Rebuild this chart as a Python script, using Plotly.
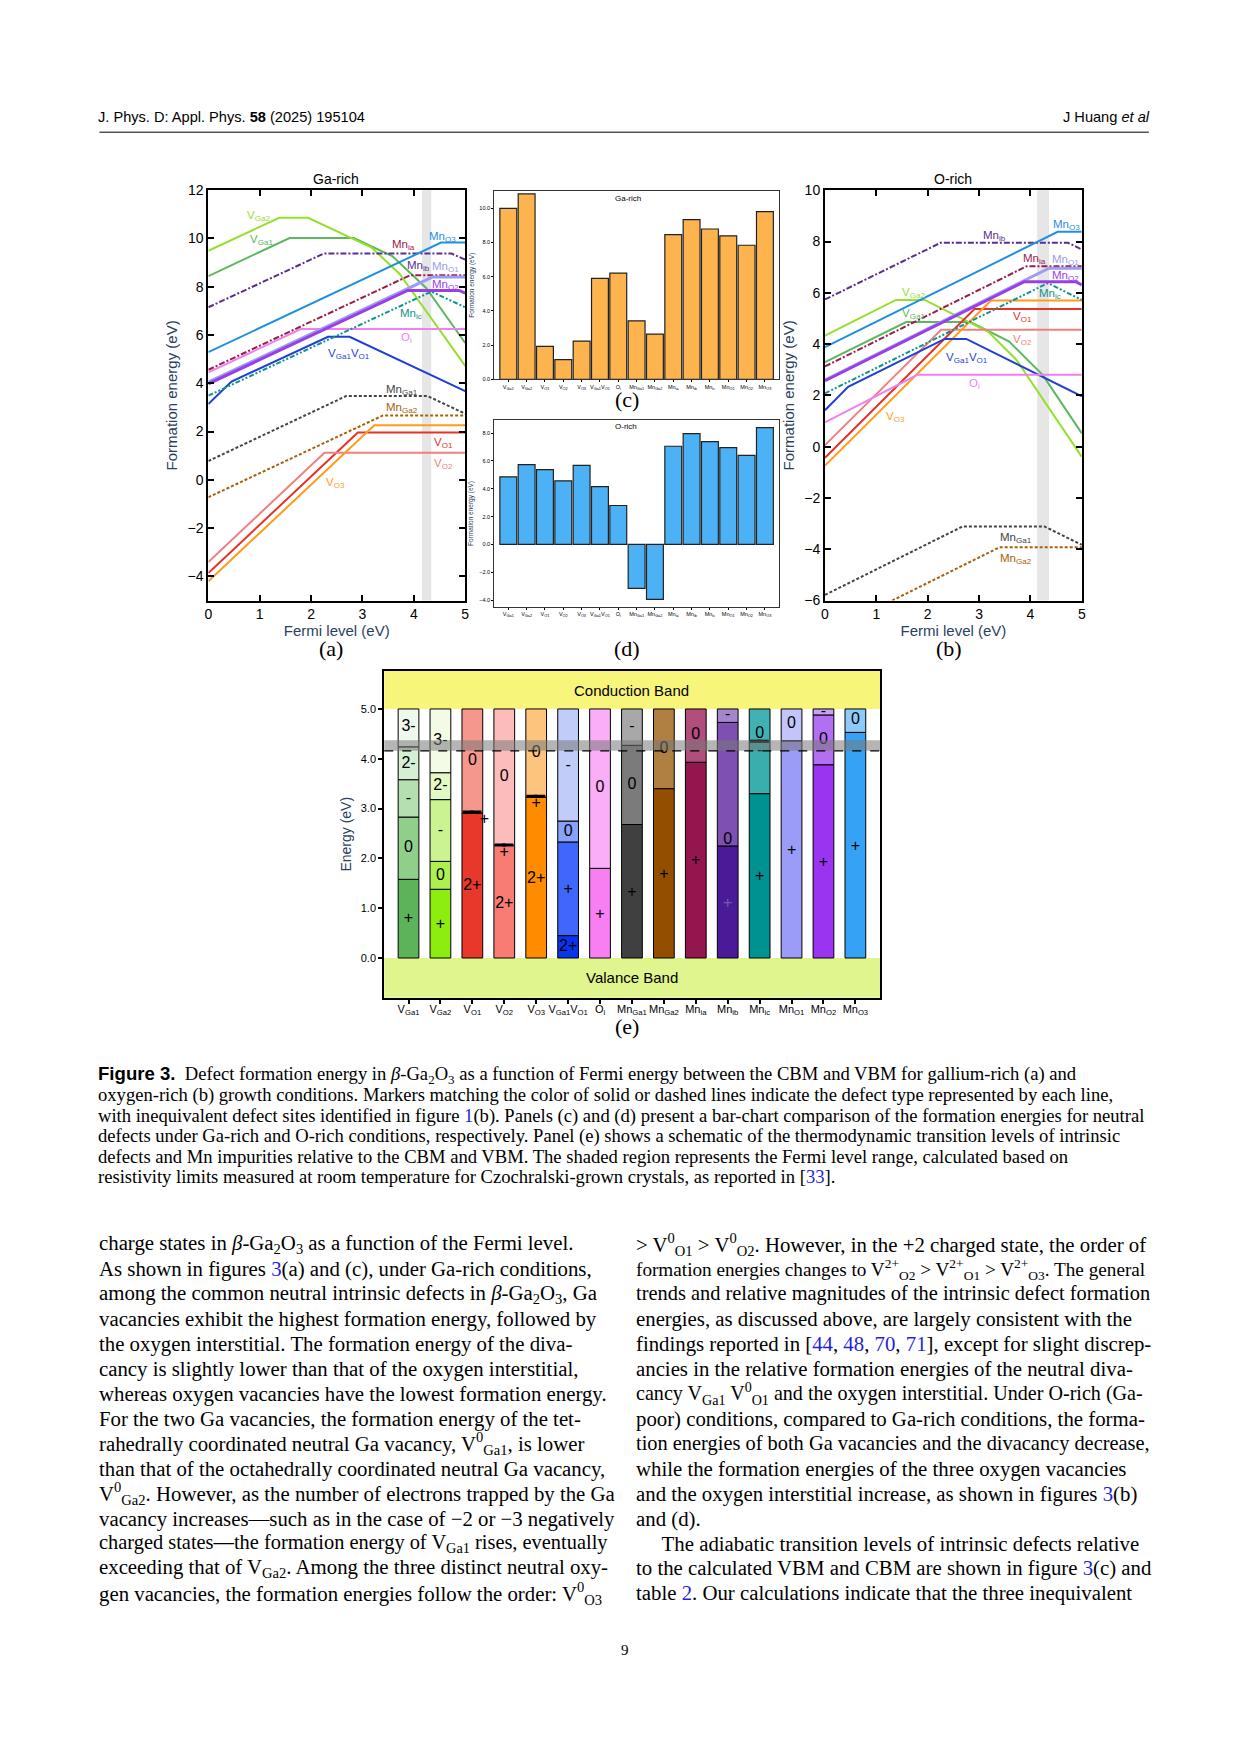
import plotly.graph_objects as go

W, H = 1241, 1754          # page size
PAD = 8                    # default body margin of the html page
FW, FH = W - 2 * PAD, H - 2 * PAD   # figure size so that page == window

# ============================ DATA ============================
defect_keys = ["VGa1", "VGa2", "VO1", "VO2", "VO3", "VGa1VO1", "Oi", "MnGa1", "MnGa2",
               "Mnia", "Mnib", "Mnic", "MnO1", "MnO2", "MnO3"]
category_labels = ["V<sub>Ga1</sub>", "V<sub>Ga2</sub>", "V<sub>O1</sub>", "V<sub>O2</sub>", "V<sub>O3</sub>",
                   "V<sub>Ga1</sub>V<sub>O1</sub>", "O<sub>i</sub>", "Mn<sub>Ga1</sub>", "Mn<sub>Ga2</sub>",
                   "Mn<sub>ia</sub>", "Mn<sub>ib</sub>", "Mn<sub>ic</sub>", "Mn<sub>O1</sub>", "Mn<sub>O2</sub>",
                   "Mn<sub>O3</sub>"]

# Fermi-level break points (eV) of each formation-energy line
kinks_VGa1 = [0, 1.58, 2.83, 3.58, 4.24, 5]
kinks_VGa2 = [0, 1.38, 1.94, 3.18, 3.72, 5]
kinks_VO1 = [0, 2.91, 5]
kinks_VO2 = [0, 2.26, 5]
kinks_VO3 = [0, 3.23, 5]
kinks_VGa1VO1 = [0, 0.45, 2.33, 2.75, 5]
kinks_Oi = [0, 1.80, 5]
kinks_MnGa1 = [0, 2.68, 4.27, 5]
kinks_MnGa2 = [0, 3.40, 5]
kinks_Mnia = [0, 3.93, 5]
kinks_Mnib = [0, 2.25, 4.73, 5]
kinks_Mnic = [0, 4.34, 5]
kinks_MnO1 = [0, 4.36, 5]
kinks_MnO2 = [0, 3.88, 4.88, 5]
kinks_MnO3 = [0, 4.53, 5]

# Ga-rich formation energies (eV) at the break points -- panel (a)
garich_VGa1 = [8.44, 10.02, 10.02, 9.27, 7.95, 5.67]
garich_VGa2 = [9.49, 10.86, 10.86, 9.62, 8.54, 4.72]
garich_VO1 = [-3.86, 1.96, 1.96]
garich_VO2 = [-3.40, 1.12, 1.12]
garich_VO3 = [-4.20, 2.26, 2.26]
garich_VGa1VO1 = [3.14, 4.07, 5.93, 5.93, 3.68]
garich_Oi = [4.45, 6.25, 6.25]
garich_MnGa1 = [0.78, 3.47, 3.47, 2.74]
garich_MnGa2 = [-0.72, 2.67, 2.67]
garich_Mnia = [4.56, 8.48, 8.48]
garich_Mnib = [7.15, 9.38, 9.38, 9.12]
garich_Mnic = [3.49, 7.80, 7.15]
garich_MnO1 = [4.05, 8.40, 8.40]
garich_MnO2 = [3.98, 7.85, 7.85, 7.74]
garich_MnO3 = [5.29, 9.83, 9.83]

# O-rich formation energies (eV) at the break points -- panel (b)
orich_VGa1 = [3.30, 4.86, 4.86, 4.11, 2.79, 0.52]
orich_VGa2 = [4.33, 5.72, 5.72, 4.48, 3.40, -0.40]
orich_VO1 = [-0.43, 5.37, 5.37]
orich_VO2 = [0.06, 4.56, 4.56]
orich_VO3 = [-0.74, 5.70, 5.70]
orich_VGa1VO1 = [1.42, 2.33, 4.20, 4.20, 1.96]
orich_Oi = [0.95, 2.80, 2.80]
orich_MnGa1 = [-5.78, -3.11, -3.11, -3.83]
orich_MnGa2 = [-7.30, -3.92, -3.92]
orich_Mnia = [3.13, 7.04, 7.04]
orich_Mnib = [5.74, 7.95, 7.95, 7.69]
orich_Mnic = [2.08, 6.38, 5.72]
orich_MnO1 = [2.60, 6.96, 6.96]
orich_MnO2 = [2.57, 6.43, 6.43, 6.31]
orich_MnO3 = [3.88, 8.38, 8.38]

# Neutral formation energies (eV) -- bar charts (c) Ga-rich and (d) O-rich
neutral_garich = [10.0, 10.84, 1.93, 1.15, 2.24, 5.91, 6.21, 3.42, 2.65, 8.46, 9.34, 8.79, 8.39, 7.84, 9.81]
neutral_orich = [4.86, 5.74, 5.38, 4.57, 5.69, 4.16, 2.80, -3.16, -3.95, 7.06, 7.97, 7.39, 6.96, 6.41, 8.40]

# Transition levels (eV above VBM) for panel (e): boundaries of each charge-state region
transition_levels = [
    [0, 1.58, 2.83, 3.58, 4.24, 5.0],
    [0, 1.38, 1.94, 3.18, 3.72, 5.0],
    [0, 2.91, 5.0],
    [0, 2.26, 5.0],
    [0, 3.23, 5.0],
    [0, 0.45, 2.33, 2.75, 5.0],
    [0, 1.80, 5.0],
    [0, 2.68, 4.27, 5.0],
    [0, 3.40, 5.0],
    [0, 3.93, 5.0],
    [0, 2.25, 4.73, 5.0],
    [0, 3.30, 4.34, 5.0],
    [0, 4.36, 5.0],
    [0, 3.88, 4.88, 5.0],
    [0, 4.53, 5.0],
]
charge_states = [
    ["+", "0", "-", "2-", "3-"],
    ["+", "0", "-", "2-", "3-"],
    ["2+", "0"],
    ["2+", "0"],
    ["2+", "0"],
    ["2+", "+", "0", "-"],
    ["+", "0"],
    ["+", "0", "-"],
    ["+", "0"],
    ["+", "0"],
    ["+", "0", "-"],
    ["+", "-", "0"],
    ["+", "0"],
    ["+", "0", "-"],
    ["+", "0"],
]
state_label_y = [
    [0.78, 2.2, 3.2, 3.9, 4.63],
    [0.67, 1.65, 2.55, 3.45, 4.35],
    [1.44, 3.96],
    [1.09, 3.63],
    [1.59, 4.11],
    [0.23, 1.37, 2.53, 3.86],
    [0.87, 3.41],
    [1.31, 3.48, 4.63],
    [1.67, 4.20],
    [1.94, 4.47],
    [1.09, 2.36, 4.87],
    [1.62, 4.16, 4.50],
    [2.14, 4.70],
    [1.91, 4.37, 4.93],
    [2.23, 4.77],
]
# metastable "+" marks and close-lying level dashes in panel (e): (category index, energy)
extra_plus_cat = [2.38, 3, 4]
extra_plus_E = [2.78, 2.10, 3.09]
dash_cat = [2, 3, 4, 11]
dash_E = [2.93, 2.27, 3.25, 4.35]
fermi_range_e = [4.16, 4.37]
fermi_range_a = [4.16, 4.34]
fermi_range_b = [4.13, 4.36]

kinks = {k: globals()["kinks_" + k] for k in defect_keys}
garich = {k: globals()["garich_" + k] for k in defect_keys}
orich = {k: globals()["orich_" + k] for k in defect_keys}

# ============================ STYLES ============================
line_color = {"VGa1": "#5cb85c", "VGa2": "#93e12b", "VO1": "#e63228", "VO2": "#f08080", "VO3": "#ff9a1a",
              "VGa1VO1": "#1f3fd5", "Oi": "#f07ff0", "MnGa1": "#444444", "MnGa2": "#a85f0a",
              "Mnia": "#9a1c4d", "Mnib": "#5a2d91", "Mnic": "#10928e", "MnO1": "#9c9cf2",
              "MnO2": "#9a3ee8", "MnO3": "#1e90e0"}
line_dash = {"MnGa1": "3px,2px", "MnGa2": "3px,2px", "Mnia": "6px,2px,2px,2px", "Mnib": "6px,2px,2px,2px",
             "Mnic": "5px,2px,2px,2px,2px,2px"}
line_width = {"MnO1": 3, "MnO2": 3}
seg_colors = [
    ["#5cb35a", "#8fcf8a", "#b5dfb0", "#d6eed3", "#eef8ec"],
    ["#8ced0e", "#aef050", "#cbf391", "#e3f8c5", "#f3fbe6"],
    ["#e8372b", "#f5978d"],
    ["#f87c74", "#fdbcbc"],
    ["#ff8c00", "#fdc47e"],
    ["#0a33ee", "#3f67fb", "#89a2f8", "#c2ccf8"],
    ["#f77ff2", "#faaef7"],
    ["#404040", "#7b7b7b", "#a8a8a8"],
    ["#934f00", "#b08042"],
    ["#93164f", "#b14e7c"],
    ["#4a1b97", "#7d50b2", "#a585cb"],
    ["#009191", "#3aadad", "#42b1b1"],
    ["#9b9cf7", "#c3c4f9"],
    ["#9a34f0", "#b26ff2", "#c9a2f5"],
    ["#35a2f6", "#8dcaf9"],
]

SANS = "Liberation Sans"
SERIF = "Liberation Serif"


# page-pixel -> paper-fraction helpers (small correction for the rendering scale observed)
def X(px):
    return (1.006 * px - 2.6 - PAD) / FW


def Y(py):
    return 1 - ((py - 8) / 0.99 - PAD) / FH


fig = go.Figure()

# ---------------- panels (a) and (b): formation energy lines ----------------
for key in defect_keys:
    for xa, ya, data in (("x", "y", garich), ("x2", "y2", orich)):
        fig.add_trace(go.Scatter(
            x=kinks[key], y=data[key], mode="lines", xaxis=xa, yaxis=ya,
            line=dict(color=line_color[key], dash=line_dash.get(key, "solid"),
                      width=line_width.get(key, 2)),
            showlegend=False, hoverinfo="skip"))

labels_a = [("V<sub>Ga2</sub>", 0.97, 10.95, "VGa2"), ("V<sub>Ga1</sub>", 1.03, 9.95, "VGa1"),
            ("Mn<sub>ia</sub>", 3.8, 9.72, "Mnia"), ("Mn<sub>O3</sub>", 4.55, 10.07, "MnO3"),
            ("Mn<sub>ib</sub>", 4.1, 8.85, "Mnib"), ("Mn<sub>O1</sub>", 4.62, 8.82, "MnO1"),
            ("Mn<sub>O2</sub>", 4.62, 8.07, "MnO2"), ("Mn<sub>ic</sub>", 3.95, 6.87, "Mnic"),
            ("O<sub>i</sub>", 3.86, 5.86, "Oi"), ("V<sub>Ga1</sub>V<sub>O1</sub>", 2.74, 5.2, "VGa1VO1"),
            ("Mn<sub>Ga1</sub>", 3.77, 3.72, "MnGa1"), ("Mn<sub>Ga2</sub>", 3.77, 2.97, "MnGa2"),
            ("V<sub>O1</sub>", 4.58, 1.52, "VO1"), ("V<sub>O2</sub>", 4.58, 0.66, "VO2"),
            ("V<sub>O3</sub>", 2.47, -0.11, "VO3")]
labels_b = [("Mn<sub>O3</sub>", 4.7, 8.64, "MnO3"), ("Mn<sub>ib</sub>", 3.3, 8.2, "Mnib"),
            ("Mn<sub>ia</sub>", 4.08, 7.31, "Mnia"), ("Mn<sub>O1</sub>", 4.68, 7.27, "MnO1"),
            ("Mn<sub>O2</sub>", 4.68, 6.66, "MnO2"), ("Mn<sub>ic</sub>", 4.38, 5.94, "Mnic"),
            ("V<sub>Ga2</sub>", 1.72, 6.0, "VGa2"), ("V<sub>Ga1</sub>", 1.72, 5.17, "VGa1"),
            ("V<sub>O1</sub>", 3.85, 5.04, "VO1"), ("V<sub>O2</sub>", 3.85, 4.16, "VO2"),
            ("V<sub>Ga1</sub>V<sub>O1</sub>", 2.77, 3.44, "VGa1VO1"), ("O<sub>i</sub>", 2.91, 2.43, "Oi"),
            ("V<sub>O3</sub>", 1.37, 1.17, "VO3"), ("Mn<sub>Ga1</sub>", 3.72, -3.55, "MnGa1"),
            ("Mn<sub>Ga2</sub>", 3.72, -4.39, "MnGa2")]

annotations = []
for labels, xr, yr in ((labels_a, "x", "y"), (labels_b, "x2", "y2")):
    for txt, lx, ly, key in labels:
        annotations.append(dict(text=txt, x=lx, y=ly, xref=xr, yref=yr, showarrow=False,
                                font=dict(family=SANS, size=11.5, color=line_color[key])))

shapes = []
for xr, fr in (("x", fermi_range_a), ("x2", fermi_range_b)):
    shapes.append(dict(type="rect", xref=xr, yref=("y domain" if xr == "x" else "y2 domain"),
                       x0=fr[0], x1=fr[1], y0=0, y1=1, fillcolor="#e6e6e6", line=dict(width=0),
                       layer="below"))

# ---------------- panels (c) and (d): neutral formation energy bars ----------------
cat_idx = list(range(len(defect_keys)))
fig.add_trace(go.Bar(x=cat_idx, y=neutral_garich, xaxis="x3", yaxis="y3", width=0.92,
                     marker=dict(color="#fdb44f", line=dict(color="#222222", width=1.2)),
                     showlegend=False, hoverinfo="skip"))
fig.add_trace(go.Bar(x=cat_idx, y=neutral_orich, xaxis="x4", yaxis="y4", width=0.92,
                     marker=dict(color="#4cb2f5", line=dict(color="#222222", width=1.2)),
                     showlegend=False, hoverinfo="skip"))

# ---------------- panel (e): transition levels ----------------
max_seg = max(len(l) - 1 for l in transition_levels)
for k in range(max_seg):
    xs, bases, hs, cols = [], [], [], []
    for i, lev in enumerate(transition_levels):
        if k < len(lev) - 1:
            xs.append(i)
            bases.append(lev[k])
            hs.append(lev[k + 1] - lev[k])
            cols.append(seg_colors[i][k])
    fig.add_trace(go.Bar(x=xs, y=hs, base=bases, xaxis="x5", yaxis="y5", width=0.65,
                         marker=dict(color=cols, line=dict(color="black", width=1)),
                         showlegend=False, hoverinfo="skip"))

lx, ly, lt, lc = [], [], [], []
for i, (states, ys) in enumerate(zip(charge_states, state_label_y)):
    for s, yv in zip(states, ys):
        lx.append(i)
        ly.append(yv)
        lt.append(s)
        lc.append("#7a5aa8" if (i == 10 and s == "+") else "black")
fig.add_trace(go.Scatter(x=lx, y=ly, text=lt, mode="text", xaxis="x5", yaxis="y5",
                         textfont=dict(family=SANS, size=16, color=lc), showlegend=False,
                         hoverinfo="skip"))
fig.add_trace(go.Scatter(x=extra_plus_cat, y=extra_plus_E, text=["+"] * len(extra_plus_E), mode="text",
                         xaxis="x5", yaxis="y5", textfont=dict(family=SANS, size=16, color="black"),
                         showlegend=False, hoverinfo="skip"))
dx, dy = [], []
for c, e in zip(dash_cat, dash_E):
    dx += [c - 0.13, c + 0.11]
    dy += [e, e]
fig.add_trace(go.Scatter(x=dx, y=dy, mode="markers", xaxis="x5", yaxis="y5",
                         marker=dict(symbol="line-ew", size=8, line=dict(width=3, color="black")),
                         showlegend=False, hoverinfo="skip"))

shapes += [
    dict(type="rect", xref="x5 domain", yref="y5", x0=0, x1=1, y0=5.0, y1=5.9,
         fillcolor="#f8f67a", line=dict(width=0), layer="below"),
    dict(type="rect", xref="x5 domain", yref="y5", x0=0, x1=1, y0=-0.9, y1=0.0,
         fillcolor="#e0f58d", line=dict(width=0), layer="below"),
    dict(type="rect", xref="x5 domain", yref="y5", x0=0, x1=1, y0=fermi_range_e[0], y1=fermi_range_e[1],
         fillcolor="rgba(120,120,120,0.55)", line=dict(width=0), layer="above"),
    dict(type="line", xref="x5 domain", yref="y5", x0=0, x1=1, y0=fermi_range_e[0], y1=fermi_range_e[0],
         line=dict(color="black", width=1.2, dash="dash"), layer="above"),
]
annotations += [
    dict(text="Conduction Band", x=7, y=5.38, xref="x5", yref="y5", showarrow=False,
         font=dict(family=SANS, size=15, color="black")),
    dict(text="Valance Band", x=7, y=-0.4, xref="x5", yref="y5", showarrow=False,
         font=dict(family=SANS, size=15, color="black")),
]


# ---------------- page text ----------------
def ptext(txt, px, py, size, family=SERIF, xanchor="left", color="black"):
    shift = {"left": -3, "right": 3, "center": 0}[xanchor]
    annotations.append(dict(text=txt, x=X(px + shift), y=Y(py), xref="paper", yref="paper", showarrow=False,
                            xanchor=xanchor, yanchor="middle",
                            font=dict(family=family, size=size, color=color)))


ptext("J. Phys. D: Appl. Phys. <b>58</b> (2025) 195104", 98, 117, 14.6, SANS)
ptext("J Huang <i>et al</i>", 1148, 117, 14.6, SANS, xanchor="right")
shapes.append(dict(type="line", xref="paper", yref="paper", x0=X(98), x1=X(1148), y0=Y(132), y1=Y(132),
                   line=dict(color="black", width=1)))

ptext("Ga-rich", 335, 179, 14, SANS, xanchor="center")
ptext("O-rich", 952, 179, 14, SANS, xanchor="center")
ptext("Ga-rich", 627, 198, 8, SANS, xanchor="center")
ptext("O-rich", 625, 426, 8, SANS, xanchor="center")
for t, px, py in (("(a)", 330, 648), ("(b)", 948, 648), ("(c)", 626, 399), ("(d)", 626, 648),
                  ("(e)", 626, 1026)):
    ptext(t, px, py, 22, SERIF, xanchor="center")

BL = '<span style="color:#1f1fe0">'
caption_lines = [
    '<span style="font-family:Liberation Sans"><b>Figure 3.</b></span>  Defect formation energy in <i>β</i>-Ga<sub>2</sub>O<sub>3</sub> as a function of Fermi energy between the CBM and VBM for gallium-rich (a) and',
    'oxygen-rich (b) growth conditions. Markers matching the color of solid or dashed lines indicate the defect type represented by each line,',
    'with inequivalent defect sites identified in figure ' + BL + '1</span>(b). Panels (c) and (d) present a bar-chart comparison of the formation energies for neutral',
    'defects under Ga-rich and O-rich conditions, respectively. Panel (e) shows a schematic of the thermodynamic transition levels of intrinsic',
    'defects and Mn impurities relative to the CBM and VBM. The shaded region represents the Fermi level range, calculated based on',
    'resistivity limits measured at room temperature for Czochralski-grown crystals, as reported in [' + BL + '33</span>].',
]
for i, t in enumerate(caption_lines):
    ptext(t, 98, 1074 + 20.3 * i, 18.6)

body_left = [
    'charge states in <i>β</i>-Ga<sub>2</sub>O<sub>3</sub> as a function of the Fermi level.',
    'As shown in figures ' + BL + '3</span>(a) and (c), under Ga-rich conditions,',
    'among the common neutral intrinsic defects in <i>β</i>-Ga<sub>2</sub>O<sub>3</sub>, Ga',
    'vacancies exhibit the highest formation energy, followed by',
    'the oxygen interstitial. The formation energy of the diva-',
    'cancy is slightly lower than that of the oxygen interstitial,',
    'whereas oxygen vacancies have the lowest formation energy.',
    'For the two Ga vacancies, the formation energy of the tet-',
    'rahedrally coordinated neutral Ga vacancy, V<sup>0</sup><sub>Ga1</sub>, is lower',
    'than that of the octahedrally coordinated neutral Ga vacancy,',
    'V<sup>0</sup><sub>Ga2</sub>. However, as the number of electrons trapped by the Ga',
    'vacancy increases—such as in the case of −2 or −3 negatively',
    'charged states—the formation energy of V<sub>Ga1</sub> rises, eventually',
    'exceeding that of V<sub>Ga2</sub>. Among the three distinct neutral oxy-',
    'gen vacancies, the formation energies follow the order: V<sup>0</sup><sub>O3</sub>',
]
body_right = [
    '> V<sup>0</sup><sub>O1</sub> > V<sup>0</sup><sub>O2</sub>. However, in the +2 charged state, the order of',
    'formation energies changes to V<sup>2+</sup><sub>O2</sub> > V<sup>2+</sup><sub>O1</sub> > V<sup>2+</sup><sub>O3</sub>. The general',
    'trends and relative magnitudes of the intrinsic defect formation',
    'energies, as discussed above, are largely consistent with the',
    'findings reported in [' + BL + '44</span>, ' + BL + '48</span>, ' + BL + '70</span>, ' + BL + '71</span>], except for slight discrep-',
    'ancies in the relative formation energies of the neutral diva-',
    'cancy V<sub>Ga1</sub> V<sup>0</sup><sub>O1</sub> and the oxygen interstitial. Under O-rich (Ga-',
    'poor) conditions, compared to Ga-rich conditions, the forma-',
    'tion energies of both Ga vacancies and the divacancy decrease,',
    'while the formation energies of the three oxygen vacancies',
    'and the oxygen interstitial increase, as shown in figures ' + BL + '3</span>(b)',
    'and (d).',
    '     The adiabatic transition levels of intrinsic defects relative',
    'to the calculated VBM and CBM are shown in figure ' + BL + '3</span>(c) and',
    'table ' + BL + '2</span>. Our calculations indicate that the three inequivalent',
]
left_sizes = {12: 20.4}
right_sizes = {1: 19.2, 2: 20.4, 6: 20.1, 8: 20.4}
for i, t in enumerate(body_left):
    ptext(t, 99, 1243 + 24.93 * i, left_sizes.get(i, 20.8))
for i, t in enumerate(body_right):
    ptext(t, 636, 1243 + 24.93 * i, right_sizes.get(i, 20.8))
ptext("9", 624, 1649, 15, SERIF, xanchor="center")

# ---------------- axes ----------------
tf14 = dict(family=SANS, size=14, color="black")
frame = dict(showline=True, linecolor="black", linewidth=2, mirror="ticks", ticks="inside",
             ticklen=6, tickwidth=1.5, tickcolor="black", showgrid=False, zeroline=False, tickfont=tf14)

small = dict(family=SANS, size=5.5, color="black")
frame_small = dict(showline=True, linecolor="#333333", linewidth=1, mirror=True, ticks="outside",
                   ticklen=2, tickwidth=0.8, tickcolor="black", showgrid=False, zeroline=False,
                   tickfont=small, tickangle=0)

frame_e = dict(showline=True, linecolor="black", linewidth=2, mirror=True, ticks="outside", ticklen=4,
               tickwidth=1.5, tickcolor="black", showgrid=False, zeroline=False,
               tickfont=dict(family=SANS, size=11, color="black"))

fig.update_layout(
    width=FW, height=FH, autosize=False, margin=dict(l=0, r=0, t=0, b=0, pad=0),
    paper_bgcolor="white", plot_bgcolor="white", showlegend=False, barmode="overlay",
    xaxis=dict(frame, domain=[X(207), X(464)], range=[0, 5], dtick=1, anchor="y",
               title=dict(text="Fermi level (eV)", font=dict(family=SANS, size=15), standoff=4)),
    yaxis=dict(frame, domain=[Y(600), Y(190)], range=[-5, 12], dtick=2, anchor="x",
               title=dict(text="Formation energy (eV)", font=dict(family=SANS, size=15), standoff=6)),
    xaxis2=dict(frame, domain=[X(824), X(1081)], range=[0, 5], dtick=1, anchor="y2",
                title=dict(text="Fermi level (eV)", font=dict(family=SANS, size=15), standoff=4)),
    yaxis2=dict(frame, domain=[Y(600), Y(190)], range=[-6, 10], dtick=2, anchor="x2",
                title=dict(text="Formation energy (eV)", font=dict(family=SANS, size=15), standoff=6)),
    xaxis3=dict(frame_small, domain=[X(493), X(778)], range=[-0.77, 14.77], anchor="y3",
                tickvals=cat_idx, ticktext=category_labels),
    yaxis3=dict(frame_small, domain=[Y(379), Y(191)], range=[0, 11], anchor="x3",
                tickvals=[0, 2, 4, 6, 8, 10], tickformat=".1f",
                title=dict(text="Formation energy (eV)", font=dict(family=SANS, size=6.5), standoff=4)),
    xaxis4=dict(frame_small, domain=[X(493), X(778)], range=[-0.77, 14.77], anchor="y4",
                tickvals=cat_idx, ticktext=category_labels),
    yaxis4=dict(frame_small, domain=[Y(606), Y(420)], range=[-4.47, 8.92], anchor="x4",
                tickvals=[-4, -2, 0, 2, 4, 6, 8], tickformat=".1f",
                title=dict(text="Formation energy (eV)", font=dict(family=SANS, size=6.5), standoff=4)),
    xaxis5=dict(frame_e, domain=[X(383), X(879)], range=[-0.76, 14.77], anchor="y5",
                tickvals=cat_idx, ticktext=category_labels, tickangle=0, ticklabelstandoff=-4),
    yaxis5=dict(frame_e, domain=[Y(997), Y(670)], range=[-0.8, 5.77], anchor="x5",
                tickvals=[0, 1, 2, 3, 4, 5], tickformat=".1f",
                title=dict(text="Energy (eV)", font=dict(family=SANS, size=14), standoff=6)),
    annotations=annotations, shapes=shapes,
)

fig.write_html("out.html", config={"displayModeBar": False})
